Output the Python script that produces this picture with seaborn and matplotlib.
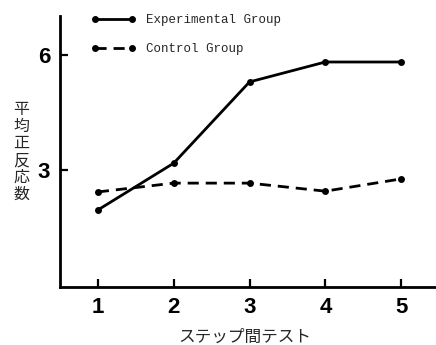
import pandas as pd
import seaborn as sns
import matplotlib.pyplot as plt

# Values
tests = [1, 2, 3, 4, 5]
experimental = [1.96, 3.18, 5.30, 5.82, 5.82]
control = [2.43, 2.66, 2.66, 2.45, 2.77]
groups = ["Experimental Group", "Control Group"]
y_ticks = [3, 6]
x_label = "ステップ間テスト"
y_label = "平均正反応数"


def main():
    df = pd.DataFrame({
        "test": tests * 2,
        "score": experimental + control,
        "group": [groups[0]] * len(tests) + [groups[1]] * len(tests),
    })

    sns.set_theme(style="ticks")
    plt.rcParams["font.family"] = ["Liberation Sans", "Noto Sans CJK JP", "DejaVu Sans"]

    fig = plt.figure(figsize=(4.36, 3.45), dpi=100)
    ax = fig.add_axes([60 / 436, 1 - 287 / 345, 1 - 60 / 436, (287 - 16) / 345])

    sns.lineplot(
        data=df, x="test", y="score", hue="group", style="group",
        palette=["black", "black"], hue_order=groups, style_order=groups,
        dashes={groups[0]: "", groups[1]: (4, 2.5)},
        markers={groups[0]: "o", groups[1]: "o"},
        markersize=5, markeredgewidth=0, linewidth=2, ax=ax,
    )

    ax.set_xlim(0.5, 5.46)
    ax.set_ylim(-0.05, 7.02)
    ax.set_xticks(tests)
    ax.set_yticks(y_ticks)
    ax.tick_params(direction="in", length=6, width=1.6, colors="black",
                   labelsize=16, pad=7)
    for lab in ax.get_xticklabels() + ax.get_yticklabels():
        lab.set_fontweight("bold")
    ax.set_xlabel("")
    ax.set_ylabel("")
    for side in ["top", "right"]:
        ax.spines[side].set_visible(False)
    for side in ["left", "bottom"]:
        ax.spines[side].set_linewidth(2)
        ax.spines[side].set_color("black")

    # x label and stacked vertical y label
    fig.text(245 / 436, 1 - 337 / 345, x_label, ha="center", va="center",
             fontsize=12, family=["Noto Sans CJK JP"])
    fig.text(21 / 436, 1 - 152 / 345, "\n".join(y_label), ha="center", va="center",
             fontsize=11.5, linespacing=1.0, family=["Noto Sans CJK JP"])

    handles, labels = ax.get_legend_handles_labels()
    ax.legend(handles, labels, loc="upper left", bbox_to_anchor=(80 / 436, 1 - 3 / 345),
              bbox_transform=fig.transFigure, frameon=False, numpoints=2,
              handlelength=3.52, handletextpad=0.9, labelspacing=1.36,
              prop={"family": "Liberation Mono", "size": 9})

    fig.savefig("out.png", dpi=100)


if __name__ == "__main__":
    main()
